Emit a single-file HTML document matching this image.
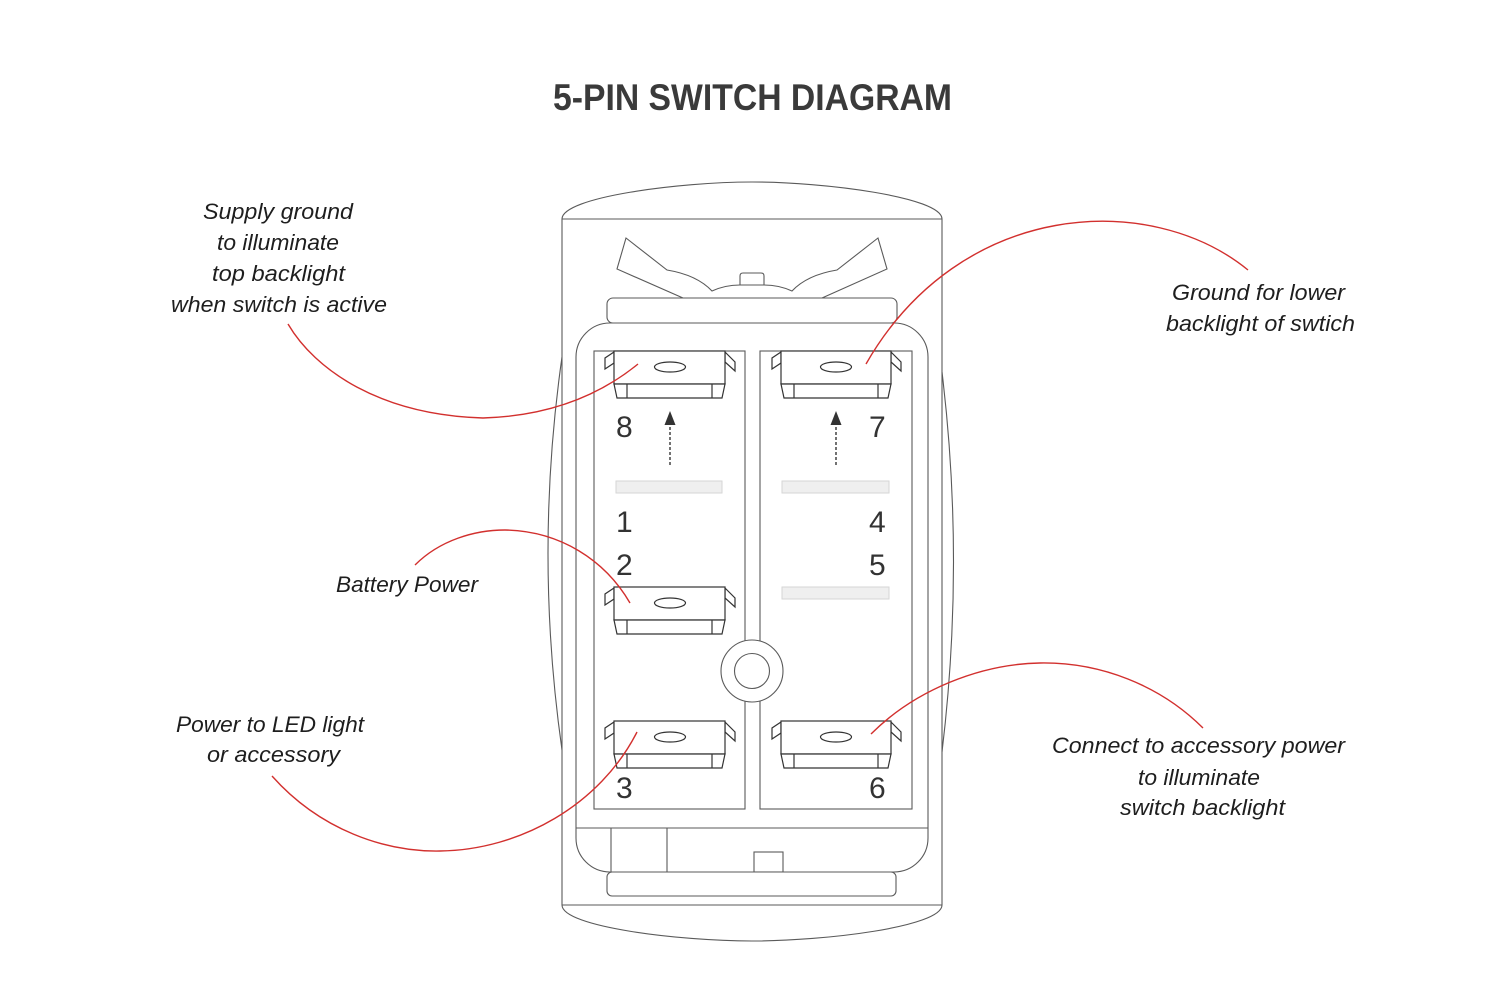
<!DOCTYPE html>
<html>
<head>
<meta charset="utf-8">
<style>
  html,body{margin:0;padding:0;background:#fff;}
  svg{display:block;}
  .lbl{font-family:"Liberation Sans",sans-serif;font-style:italic;font-size:22px;fill:#1e1e1e;}
  .dig{font-family:"Liberation Sans",sans-serif;font-size:30px;fill:#333;}
</style>
</head>
<body>
<svg width="1500" height="1000" viewBox="0 0 1500 1000" xmlns="http://www.w3.org/2000/svg">
  <rect width="1500" height="1000" fill="#fff"/>

  <!-- Title -->
  <text x="553" y="110" font-family="Liberation Sans, sans-serif" font-weight="bold" font-size="37" fill="#3a3a3a" textLength="399" lengthAdjust="spacingAndGlyphs">5-PIN SWITCH DIAGRAM</text>

  <g fill="none" stroke="#5a5a5a" stroke-width="1.1">
    <!-- outer body -->
    <path d="M562,219 C562,197 680,182 752,182 C824,182 942,197 942,219"/>
    <line x1="562" y1="219" x2="942" y2="219"/>
    <line x1="562" y1="219" x2="562" y2="905"/>
    <line x1="942" y1="219" x2="942" y2="905"/>
    <line x1="562" y1="905" x2="942" y2="905"/>
    <path d="M562,905 C562,927 680,941 752,941 C824,941 942,927 942,905"/>
    <!-- side bulges -->
    <path d="M562,357 Q534,553 562,750"/>
    <path d="M942,372 Q965,562 942,752"/>

    <!-- inner rounded body -->
    <rect x="576" y="323" width="352" height="549" rx="34" ry="34"/>

    <!-- bottom details -->
    <line x1="576" y1="828" x2="928" y2="828"/>
    <line x1="611" y1="828" x2="611" y2="872"/>
    <line x1="667" y1="828" x2="667" y2="872"/>
    <rect x="754" y="852" width="29" height="20"/>

    <!-- wings -->
    <path d="M683,298 L617,269 L626,238 L667,270 Q697,275 712,291 Q725,285 740,285 L764,285 Q779,285 792,291 Q807,275 837,270 L878,238 L887,269 L822,298"/>
    <path d="M740,285 L740,276 Q740,273 743,273 L761,273 Q764,273 764,276 L764,285"/>
  </g>

  <!-- top & bottom bars -->
  <rect x="607" y="298" width="290" height="25" rx="6" ry="6" fill="#fff" stroke="#5a5a5a" stroke-width="1.1"/>
  <rect x="607" y="872" width="289" height="24" rx="5" ry="5" fill="#fff" stroke="#5a5a5a" stroke-width="1.1"/>

  <!-- panels -->
  <rect x="594" y="351" width="151" height="458" fill="none" stroke="#5a5a5a" stroke-width="1.1"/>
  <rect x="760" y="351" width="152" height="458" fill="none" stroke="#5a5a5a" stroke-width="1.1"/>

  <!-- center circle -->
  <circle cx="752" cy="671" r="31" fill="#fff" stroke="#5a5a5a" stroke-width="1.1"/>
  <circle cx="752" cy="671" r="17.5" fill="#fff" stroke="#5a5a5a" stroke-width="1.1"/>

  <!-- gray bars -->
  <g fill="#efefef" stroke="#d6d6d6" stroke-width="1">
    <rect x="616" y="481" width="106" height="12"/>
    <rect x="782" y="481" width="107" height="12"/>
    <rect x="782" y="587" width="107" height="12"/>
  </g>

  <!-- terminal definition as groups -->
  <g fill="#fff" stroke="#333" stroke-width="1.2">
    <!-- pin 8 -->
    <g transform="translate(614,351)">
      <polygon points="0,1 -9,7 -9,18 0,12"/>
      <polygon points="111,1 121,11 121,20 111,11"/>
      <rect x="0" y="0" width="111" height="33"/>
      <polygon points="0,33 3,47 108,47 111,33"/>
      <line x1="13" y1="33" x2="13" y2="47"/>
      <line x1="98" y1="33" x2="98" y2="47"/>
      <ellipse cx="56" cy="16" rx="15.5" ry="5"/>
    </g>
    <!-- pin 2 -->
    <g transform="translate(614,587)">
      <polygon points="0,1 -9,7 -9,18 0,12"/>
      <polygon points="111,1 121,11 121,20 111,11"/>
      <rect x="0" y="0" width="111" height="33"/>
      <polygon points="0,33 3,47 108,47 111,33"/>
      <line x1="13" y1="33" x2="13" y2="47"/>
      <line x1="98" y1="33" x2="98" y2="47"/>
      <ellipse cx="56" cy="16" rx="15.5" ry="5"/>
    </g>
    <!-- pin 3 -->
    <g transform="translate(614,721)">
      <polygon points="0,1 -9,7 -9,18 0,12"/>
      <polygon points="111,1 121,11 121,20 111,11"/>
      <rect x="0" y="0" width="111" height="33"/>
      <polygon points="0,33 3,47 108,47 111,33"/>
      <line x1="13" y1="33" x2="13" y2="47"/>
      <line x1="98" y1="33" x2="98" y2="47"/>
      <ellipse cx="56" cy="16" rx="15.5" ry="5"/>
    </g>
    <!-- pin 7 -->
    <g transform="translate(781,351)">
      <polygon points="0,1 -9,7 -9,18 0,12"/>
      <polygon points="110,1 120,11 120,20 110,11"/>
      <rect x="0" y="0" width="110" height="33"/>
      <polygon points="0,33 3,47 107,47 110,33"/>
      <line x1="13" y1="33" x2="13" y2="47"/>
      <line x1="97" y1="33" x2="97" y2="47"/>
      <ellipse cx="55" cy="16" rx="15.5" ry="5"/>
    </g>
    <!-- pin 6 -->
    <g transform="translate(781,721)">
      <polygon points="0,1 -9,7 -9,18 0,12"/>
      <polygon points="110,1 120,11 120,20 110,11"/>
      <rect x="0" y="0" width="110" height="33"/>
      <polygon points="0,33 3,47 107,47 110,33"/>
      <line x1="13" y1="33" x2="13" y2="47"/>
      <line x1="97" y1="33" x2="97" y2="47"/>
      <ellipse cx="55" cy="16" rx="15.5" ry="5"/>
    </g>
  </g>

  <!-- dashed arrows -->
  <g stroke="#444" stroke-width="1.5" stroke-dasharray="3,2" fill="none">
    <line x1="670" y1="465" x2="670" y2="424"/>
    <line x1="836" y1="465" x2="836" y2="424"/>
  </g>
  <polygon points="670,411 664.5,425 675.5,425" fill="#333"/>
  <polygon points="836,411 830.5,425 841.5,425" fill="#333"/>

  <!-- pin numbers -->
  <text class="dig" x="616" y="437">8</text>
  <text class="dig" x="616" y="532">1</text>
  <text class="dig" x="616" y="575">2</text>
  <text class="dig" x="616" y="798">3</text>
  <text class="dig" x="869" y="437">7</text>
  <text class="dig" x="869" y="532">4</text>
  <text class="dig" x="869" y="575">5</text>
  <text class="dig" x="869" y="798">6</text>

  <!-- red leader curves -->
  <g fill="none" stroke="#d2302e" stroke-width="1.4">
    <path d="M288,324 C315,370 380,415 483,418 C550,416 600,395 638,364"/>
    <path d="M1248,270 C1150,190 960,200 866,364"/>
    <path d="M415,565 C440,540 475,530 505,530 C560,531 605,560 630,603"/>
    <path d="M272,776 C320,830 385,852 440,851 C520,850 600,805 637,732"/>
    <path d="M1203,728 C1160,685 1100,662 1040,663 C980,664 915,690 871,734"/>
  </g>

  <!-- labels -->
  <text class="lbl" x="203" y="219" textLength="150" lengthAdjust="spacingAndGlyphs">Supply ground</text>
  <text class="lbl" x="217" y="250" textLength="122" lengthAdjust="spacingAndGlyphs">to illuminate</text>
  <text class="lbl" x="212" y="281" textLength="133" lengthAdjust="spacingAndGlyphs">top backlight</text>
  <text class="lbl" x="171" y="312" textLength="216" lengthAdjust="spacingAndGlyphs">when switch is active</text>

  <text class="lbl" x="1172" y="300" textLength="173" lengthAdjust="spacingAndGlyphs">Ground for lower</text>
  <text class="lbl" x="1166" y="331" textLength="189" lengthAdjust="spacingAndGlyphs">backlight of swtich</text>

  <text class="lbl" x="336" y="592" textLength="142" lengthAdjust="spacingAndGlyphs">Battery Power</text>

  <text class="lbl" x="176" y="732" textLength="188" lengthAdjust="spacingAndGlyphs">Power to LED light</text>
  <text class="lbl" x="207" y="762" textLength="133" lengthAdjust="spacingAndGlyphs">or accessory</text>

  <text class="lbl" x="1052" y="753" textLength="293" lengthAdjust="spacingAndGlyphs">Connect to accessory power</text>
  <text class="lbl" x="1138" y="785" textLength="122" lengthAdjust="spacingAndGlyphs">to illuminate</text>
  <text class="lbl" x="1120" y="815" textLength="165" lengthAdjust="spacingAndGlyphs">switch backlight</text>
</svg>
</body>
</html>
